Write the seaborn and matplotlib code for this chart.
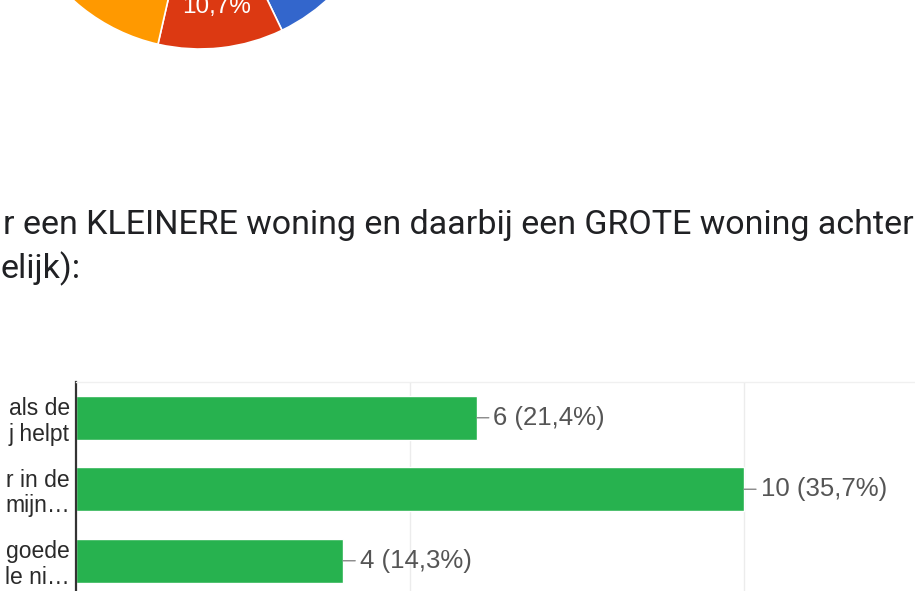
import matplotlib
matplotlib.use("Agg")
import matplotlib.pyplot as plt
import seaborn as sns
import pandas as pd

# ---- data ----
pie_labels = ["A", "B", "C", "D"]
pie_values = [12, 3, 8, 5]
pie_colors = ["#3366cc", "#dc3912", "#ff9900", "#109618"]

bar_categories = ["als de\nj helpt", "r in de\nmijn…", "goede\nle ni…"]
bar_values = [6, 10, 4]
bar_labels = ["6 (21,4%)", "10 (35,7%)", "4 (14,3%)"]

title_line1 = "r een KLEINERE woning en daarbij een GROTE woning achter"
title_line2 = "elijk):"

# ---- style ----
sns.set_style("white")
plt.rcParams["font.family"] = ["Liberation Sans", "DejaVu Sans"]

W, H = 915, 591
fig = plt.figure(figsize=(W / 100, H / 100), dpi=100)
fig.patch.set_facecolor("white")

def fx(px):
    return px / W

def fy(py_from_top):
    return 1 - py_from_top / H

# ---- pie (cropped at the top) ----
cx, cy, r = 200, -140, 189
ax_pie = fig.add_axes([fx(cx - r), fy(cy + r), (2 * r) / W, (2 * r) / H])
wedges, texts, autotexts = ax_pie.pie(
    pie_values, colors=pie_colors, startangle=90, counterclock=False,
    autopct=lambda p: f"{p:.1f}%".replace(".", ","), pctdistance=0.785,
    wedgeprops=dict(edgecolor="white", linewidth=1.2),
    textprops=dict(color="white", fontsize=17.5),
)
ax_pie.set_xlim(-1, 1)
ax_pie.set_ylim(-1, 1)
ax_pie.set_aspect("equal")
ax_pie.axis("off")
# labels of slices lying above the visible crop are not shown
for at in autotexts:
    x, y = at.get_position()
    if y > -0.6:
        at.set_visible(False)

# ---- title (cropped on the left) ----
t1 = fig.text(fx(3), fy(234), title_line1, family=["Roboto", "DejaVu Sans"],
              fontsize=20, color="#202124", va="baseline", ha="left")
t2 = fig.text(fx(1), fy(278), title_line2, family=["Roboto", "DejaVu Sans"],
              fontsize=20, color="#202124", va="baseline", ha="left")
fig.canvas.draw()
rend = fig.canvas.get_renderer()
w = t1.get_window_extent(rend).width
fs = 20 * 909 / w
t1.set_fontsize(fs)
t2.set_fontsize(fs)

# ---- bar chart ----
unit = 66.8  # px per unit
xmax = 15
band = 71.5
top = 382
n = len(bar_categories)
ax = fig.add_axes([fx(76), fy(top + n * band), xmax * unit / W, n * band / H])
df = pd.DataFrame({"cat": bar_categories, "val": bar_values})
sns.barplot(data=df, x="val", y="cat", color="#27b24f", saturation=1,
            width=44 / band, ax=ax, orient="h")
ax.set_xlim(0, xmax)
ax.set_ylim(n - 0.5, -0.5)
ax.set_xlabel("")
ax.set_ylabel("")
ax.set_xticks([5, 10, 15])
ax.tick_params(axis="x", length=0, labelbottom=False)
ax.xaxis.grid(True, color="#ececec", linewidth=1)
ax.set_axisbelow(True)
ax.tick_params(axis="y", length=0, pad=4.5, labelsize=16.5, labelcolor="#2a2a2a")
for lab in ax.get_yticklabels():
    lab.set_linespacing(1.15)
for s in ["right", "bottom"]:
    ax.spines[s].set_visible(False)
ax.spines["top"].set_color("#f0f0f0")
ax.spines["top"].set_linewidth(1)
ax.spines["left"].set_color("#333333")
ax.spines["left"].set_linewidth(1.6)

for i, (v, lab) in enumerate(zip(bar_values, bar_labels)):
    ax.annotate(lab, xy=(v, i), xytext=(12, 0), textcoords="offset points",
                va="center", ha="left", fontsize=18.5, color="#555555",
                arrowprops=dict(arrowstyle="-", color="#888888", lw=1,
                                shrinkA=1, shrinkB=0))

fig.savefig("out.png", dpi=100)
